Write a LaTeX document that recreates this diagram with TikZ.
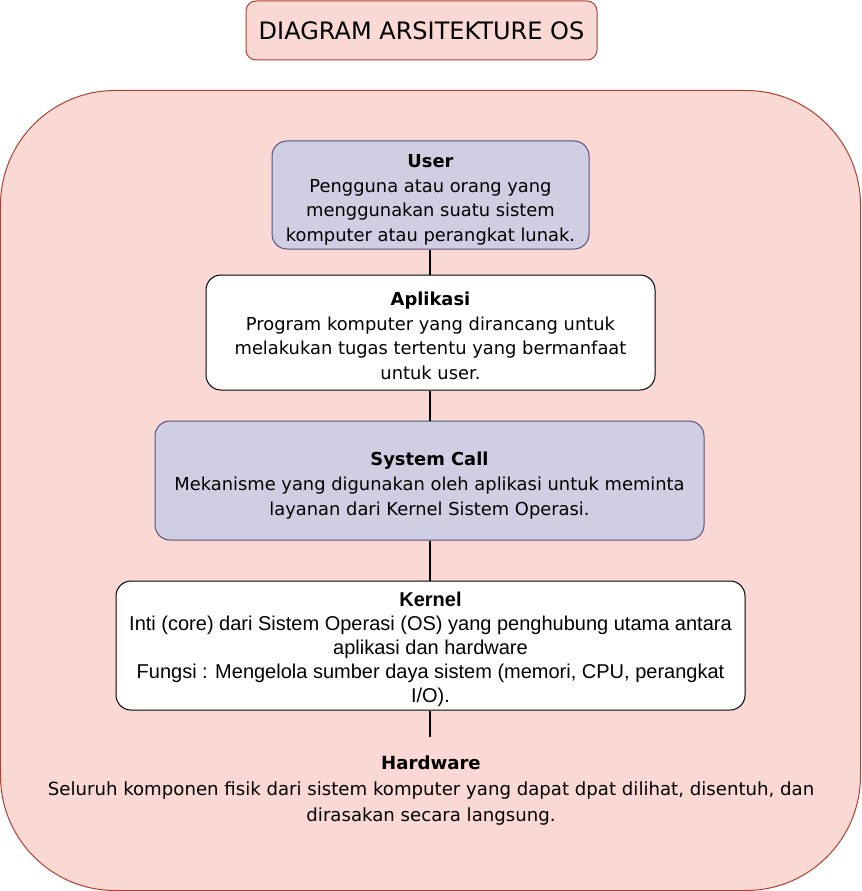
\documentclass[tikz,border=0pt]{standalone}
\usepackage{fontspec}
\setmainfont{DejaVu Sans}
\newfontfamily\kernfont{Liberation Sans}
\definecolor{pinkfill}{HTML}{FAD9D5}
\definecolor{pinkline}{HTML}{AE4132}
\definecolor{purpfill}{HTML}{D0CEE2}
\definecolor{purpline}{HTML}{56517E}
\begin{document}
\begin{tikzpicture}[x=0.75pt,y=-0.75pt,
  layerbox/.style={draw, rounded corners=11.25pt, inner sep=0pt, line width=0.75pt},
  purp/.style={layerbox, fill=purpfill, draw=purpline},
  white/.style={layerbox, fill=white, draw=black},
  txt/.style={align=center, inner sep=0pt, font=\fontsize{13.4}{18.4}\selectfont},
  link/.style={draw=black, line width=0.9pt}]
\useasboundingbox (0,0) rectangle (861,891);
\node[draw=pinkline, fill=pinkfill, rounded corners=7.5pt, line width=0.75pt,
  minimum width=351*0.75pt, minimum height=59*0.75pt, inner sep=0pt,
  font=\fontsize{18}{20}\selectfont] (title) at (421.5,30.5) {DIAGRAM ARSITEKTURE OS};
\draw[draw=pinkline, fill=pinkfill, line width=0.75pt, rounded corners=86pt]
  (0.5,90.5) rectangle (860.5,890.5);
\node[purp, minimum width=317*0.75pt, minimum height=108*0.75pt] (user) at (430.5,195) {};
\node[txt] (usertxt) at (430.5,200)
  {\textbf{User}\\Pengguna atau orang yang\\menggunakan suatu sistem\\komputer atau perangkat lunak.};
\node[white, minimum width=449*0.75pt, minimum height=115*0.75pt] (apl) at (430.5,332.5) {};
\node[txt] (apltxt) at (430.5,336)
  {\textbf{Aplikasi}\\Program komputer yang dirancang untuk\\melakukan tugas tertentu yang bermanfaat\\untuk user.};
\node[purp, minimum width=549*0.75pt, minimum height=119*0.75pt] (sys) at (429.5,480.5) {};
\node[txt, font=\fontsize{13.4}{18.8}\selectfont] (systxt) at (429.5,485.5)
  {\textbf{System Call}\\Mekanisme yang digunakan oleh aplikasi untuk meminta\\layanan dari Kernel Sistem Operasi.};
\node[white, minimum width=629*0.75pt, minimum height=129*0.75pt] (kern) at (430.5,645.5) {};
\node[txt, font=\kernfont\fontsize{15}{18}\selectfont] (kerntxt) at (430.5,649.5)
  {\textbf{Kernel}\\Inti (core) dari Sistem Operasi (OS) yang penghubung utama antara\\aplikasi dan hardware\\Fungsi : Mengelola sumber daya sistem (memori, CPU, perangkat\\I/O).};
\node[txt, font=\fontsize{13.6}{19.5}\selectfont] (hw) at (431,790.5)
  {\textbf{Hardware}\\Seluruh komponen fisik dari sistem komputer yang dapat dpat dilihat, disentuh, dan\\dirasakan secara langsung.};
\coordinate (hwtop) at (430,737);
\draw[link] (user.south -| 430,0) -- (apl.north -| 430,0);
\draw[link] (apl.south -| 430,0) -- (sys.north -| 430,0);
\draw[link] (sys.south -| 430,0) -- (kern.north -| 430,0);
\draw[link] (kern.south -| 430,0) -- (hwtop);
\end{tikzpicture}
\end{document}
